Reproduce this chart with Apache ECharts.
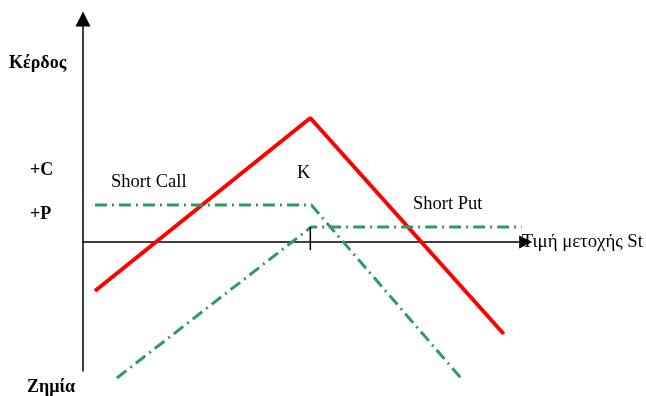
<!DOCTYPE html>
<html><head><meta charset="utf-8">
<script src="https://cdn.jsdelivr.net/npm/echarts@6/dist/echarts.min.js"></script>
<style>html,body{margin:0;padding:0;background:#fff}#c{width:646px;height:396px}</style>
</head><body><div id="c"></div>
<script>
// schematic payoff data (x: stock price units, y: profit units)
const redX = [6, 114, 211];
const redY = [-24.5, 62, -46];
const callX = [6, 114.5, 189.5];
const callY = [18.5, 18.5, -68];
const putX = [17, 114.5, 220];
const putY = [-68, 7.5, 7.5];
const kTickX = [114, 114];
const kTickY = [7.5, -4];
const xName = 'Τιμή μετοχής St';

const zip = (a, b) => a.map((v, i) => [v, b[i]]);
const FONT = '"Liberation Serif", "Times New Roman", serif';
const chart = echarts.init(document.getElementById('c'));
const green = '#2f9a63';
const dash = [12, 5, 2, 5];
chart.setOption({
  animation: false,
  grid: { left: 83, right: 119, top: 19, bottom: 25 },
  xAxis: {
    type: 'value', min: 0, max: 222,
    axisLine: { onZero: true, symbol: ['none', 'triangle'], symbolSize: [13, 13], lineStyle: { color: '#000', width: 1.5 } },
    axisTick: { show: false }, axisLabel: { show: false }, splitLine: { show: false },
    name: xName, nameLocation: 'end', nameGap: -4,
    nameTextStyle: { fontFamily: FONT, fontSize: 18.8, color: '#000', align: 'left', verticalAlign: 'middle', padding: [3, 0, 0, 0] }
  },
  yAxis: {
    type: 'value', min: -64.5, max: 111.5,
    axisLine: { onZero: false, symbol: ['none', 'triangle'], symbolSize: [15, 15], lineStyle: { color: '#000', width: 1.5 } },
    axisTick: { show: false }, axisLabel: { show: false }, splitLine: { show: false }
  },
  series: [
    { type: 'line', data: zip(redX, redY), symbol: 'none', clip: false,
      lineStyle: { color: '#ff0000', width: 4 } },
    { type: 'line', data: zip(callX, callY), symbol: 'none', clip: false,
      lineStyle: { color: green, width: 3, type: dash } },
    { type: 'line', data: zip(putX, putY), symbol: 'none', clip: false,
      lineStyle: { color: green, width: 3, type: dash } },
    { type: 'line', data: zip(kTickX, kTickY), symbol: 'none', clip: false,
      lineStyle: { color: '#000', width: 1.5 } }
  ],
  graphic: [
    { type: 'text', left: 9, top: 54, style: { text: 'Κέρδος', font: 'bold 18px ' + FONT, fill: '#000' } },
    { type: 'text', left: 30, top: 161, style: { text: '+C', font: 'bold 18px ' + FONT, fill: '#000' } },
    { type: 'text', left: 30, top: 205, style: { text: '+P', font: 'bold 18px ' + FONT, fill: '#000' } },
    { type: 'text', left: 27, top: 378, style: { text: 'Ζημία', font: 'bold 18px ' + FONT, fill: '#000' } },
    { type: 'text', left: 111, top: 173, style: { text: 'Short Call', font: '18.5px ' + FONT, fill: '#000' } },
    { type: 'text', left: 297, top: 164, style: { text: 'K', font: '18.5px ' + FONT, fill: '#000' } },
    { type: 'text', left: 413, top: 195, style: { text: 'Short Put', font: '18.5px ' + FONT, fill: '#000' } }
  ]
});
</script></body></html>
